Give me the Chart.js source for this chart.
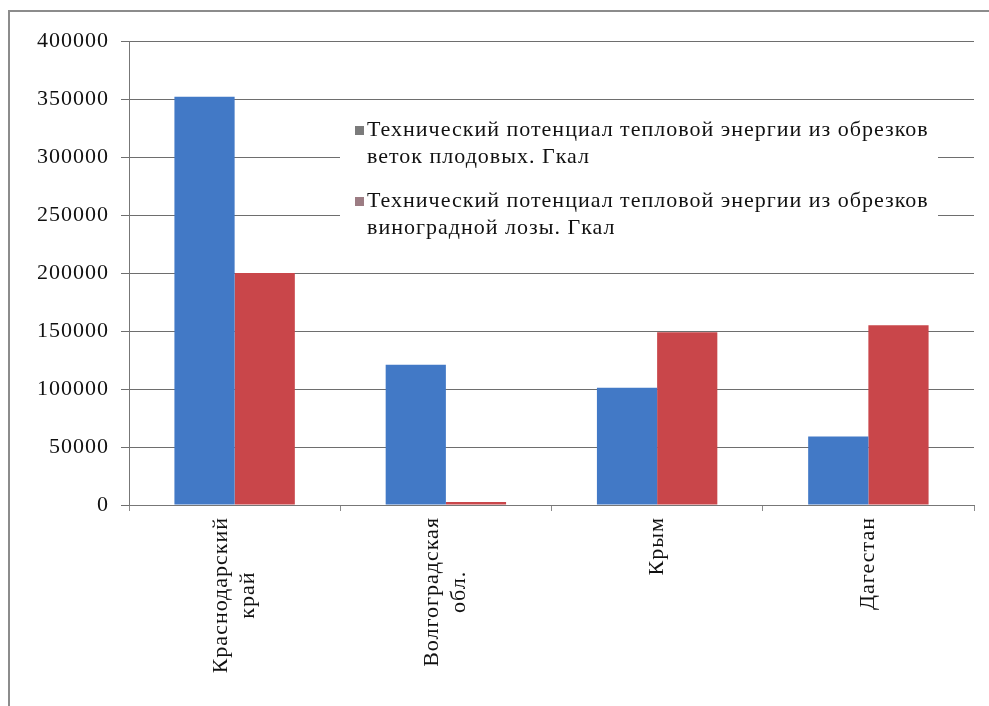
<!DOCTYPE html>
<html>
<head>
<meta charset="utf-8">
<script src="https://cdn.jsdelivr.net/npm/chart.js@4"></script>
<style>
  html, body { margin: 0; padding: 0; background: #fff; }
  #wrap { width: 989px; height: 706px; position: relative; }
</style>
</head>
<body>
<div id="wrap"><canvas id="potentialChart" width="989" height="706"></canvas></div>
<script>
// Chart data
const regions = [
    ['Краснодарский', 'край'],
    ['Волгоградская', 'обл.'],
    ['Крым'],
    ['Дагестан']
];
const fruitBranches = [352000, 121000, 101000, 59000];
const grapeVines = [200000, 2500, 149000, 155000];
const seriesNames = [
    ['Технический потенциал тепловой энергии из обрезков', 'веток плодовых. Гкал'],
    ['Технический потенциал тепловой энергии из обрезков', 'виноградной лозы. Гкал']
];
const yTicks = { min: 0, max: 400000, step: 50000 };

const FONT = '"Liberation Serif", "Times New Roman", serif';
const SPACING = '1px'; // the original serif is wider than Liberation Serif

// grey frame at left/top of the picture
const framePlugin = {
    id: 'frame',
    beforeDraw(chart) {
        const ctx = chart.ctx;
        ctx.letterSpacing = SPACING;
        ctx.save();
        ctx.fillStyle = '#fff';
        ctx.fillRect(0, 0, chart.width, chart.height);
        ctx.strokeStyle = '#8c8c8c';
        ctx.lineWidth = 2;
        ctx.beginPath();
        ctx.moveTo(9, chart.height);
        ctx.lineTo(9, 11);
        ctx.lineTo(chart.width, 11);
        ctx.stroke();
        ctx.restore();
    }
};

// vertical category labels, lines centred on each other
const xLabelsPlugin = {
    id: 'xLabels',
    afterDraw(chart) {
        const ctx = chart.ctx;
        const xScale = chart.scales.x;
        const top = chart.chartArea.bottom + 12;
        const lineHeight = 27;
        ctx.save();
        ctx.letterSpacing = SPACING;
        ctx.font = '22px ' + FONT;
        ctx.fillStyle = '#111';
        ctx.textBaseline = 'middle';
        ctx.textAlign = 'center';
        regions.forEach((lines, i) => {
            const x = xScale.getPixelForValue(i);
            const maxW = Math.max(...lines.map(l => ctx.measureText(l).width));
            ctx.save();
            ctx.translate(x, top);
            ctx.rotate(-Math.PI / 2);
            lines.forEach((line, j) => {
                const off = (j - (lines.length - 1) / 2) * lineHeight;
                ctx.fillText(line, -maxW / 2, off);
            });
            ctx.restore();
        });
        ctx.restore();
    }
};

// legend box inside the plot area
const legendBoxPlugin = {
    id: 'legendBox',
    afterDatasetsDraw(chart) {
        const ctx = chart.ctx;
        const box = { x: 340, y: 108, w: 598, h: 142 };
        const markerColors = ['#7b7b7b', '#9c7c83'];
        ctx.save();
        ctx.fillStyle = '#fff';
        ctx.fillRect(box.x, box.y, box.w, box.h);
        ctx.letterSpacing = SPACING;
        ctx.font = '22px ' + FONT;
        ctx.textBaseline = 'middle';
        ctx.textAlign = 'left';
        seriesNames.forEach((lines, i) => {
            const y0 = 130 + i * 71;
            ctx.fillStyle = markerColors[i];
            ctx.fillRect(355, y0 - 4, 9, 9);
            ctx.fillStyle = '#111';
            lines.forEach((line, j) => {
                ctx.fillText(line, 367, y0 + j * 27);
            });
        });
        ctx.restore();
    }
};

const ctx = document.getElementById('potentialChart').getContext('2d');
const potentialChart = new Chart(ctx, {
    type: 'bar',
    data: {
        labels: regions,
        datasets: [{
            label: seriesNames[0].join(' '),
            data: fruitBranches,
            backgroundColor: '#4279c6',
            borderWidth: 0
        }, {
            label: seriesNames[1].join(' '),
            data: grapeVines,
            backgroundColor: '#c9464a',
            borderWidth: 0
        }]
    },
    plugins: [framePlugin, legendBoxPlugin, xLabelsPlugin],
    options: {
        responsive: false,
        animation: false,
        layout: { padding: { top: 41, right: 15, left: 0, bottom: 0 } },
        plugins: {
            legend: { display: false },
            tooltip: { enabled: false }
        },
        datasets: {
            bar: { categoryPercentage: 0.57, barPercentage: 1.0 }
        },
        scales: {
            x: {
                grid: {
                    display: true,
                    drawOnChartArea: false,
                    tickLength: 6,
                    color: '#8a8a8a'
                },
                border: { display: true, color: '#777', width: 1 },
                ticks: { display: false },
                afterFit(scale) { scale.height = 201; }
            },
            y: {
                min: yTicks.min,
                max: yTicks.max,
                ticks: {
                    stepSize: yTicks.step,
                    padding: 12,
                    color: '#111',
                    font: { family: FONT, size: 22 },
                    callback: v => String(v)
                },
                grid: {
                    color: '#6e6e6e',
                    lineWidth: 1,
                    tickLength: 8
                },
                border: { display: true, color: '#777', width: 1 },
                afterFit(scale) { scale.width = 129; }
            }
        }
    }
});
</script>
</body>
</html>
